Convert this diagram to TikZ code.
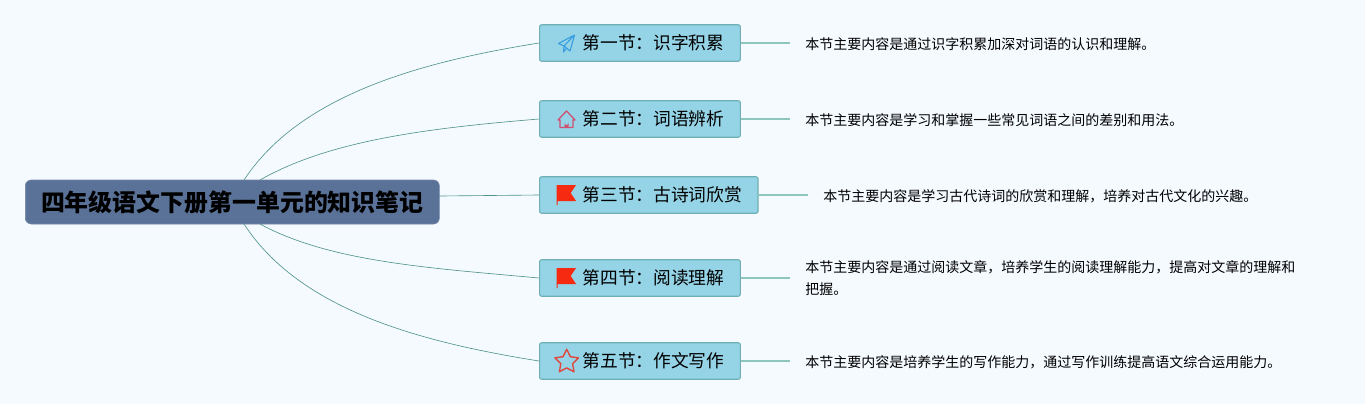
\documentclass[tikz,border=0pt]{standalone}
\usepackage{xcolor}
\usepackage{fontspec}
\setmainfont{Noto Sans CJK SC}
\usetikzlibrary{shapes.geometric}

\definecolor{pagebg}{HTML}{F5FAFF}
\definecolor{rootfill}{HTML}{5A7298}
\definecolor{secfill}{HTML}{95D3E6}
\definecolor{secline}{HTML}{6FB0B4}
\definecolor{branch}{HTML}{4F9486}
\definecolor{twig}{HTML}{8CC6BC}
\definecolor{planeblue}{HTML}{3A9FE0}
\definecolor{housered}{HTML}{D0506F}
\definecolor{flagred}{HTML}{F52A10}
\definecolor{starred}{HTML}{E0483F}

\newcommand{\wcolon}{\symbol{"FF1A}}
\newcommand{\wcomma}{\symbol{"FF0C}}

\begin{document}
\begin{tikzpicture}[x=0.025cm, y=-0.025cm, line join=round]
	\tikzstyle{root} = [fill=rootfill, draw=rootfill!85!white, rounded corners=0.15cm, anchor=west, inner sep=0, minimum width=10.35cm, minimum height=1.1cm, font=\fontsize{17}{20}\selectfont\bfseries]
	\tikzstyle{section} = [fill=secfill, draw=secline, line width=0.8pt, rounded corners=0.05cm, anchor=west, inner ysep=0, inner xsep=0.4cm, minimum height=0.91cm, font=\fontsize{12.6}{15}\selectfont, execute at begin node={\hspace*{0.675cm}}]
	\tikzstyle{note} = [anchor=west, inner xsep=0.375cm, inner ysep=0, align=left, font=\fontsize{9.96}{15.5}\selectfont]
	\tikzstyle{branchline} = [draw=branch, line width=0.45pt]
	\tikzstyle{twigline} = [draw=twig, line width=0.8pt]

	\useasboundingbox (0, 0) rectangle (1365, 404);
	\fill[pagebg] (0, 0) rectangle (1365, 404);

	\node[root]		at (25, 202)	(main)	{四年级语文下册第一单元的知识笔记};

	\node[section]	at (539, 43)	(sec1)	{第一节\wcolon 识字积累};
	\node[section]	at (539, 119)	(sec2)	{第二节\wcolon 词语辨析};
	\node[section]	at (539, 195)	(sec3)	{第三节\wcolon 古诗词欣赏};
	\node[section]	at (539, 278)	(sec4)	{第四节\wcolon 阅读理解};
	\node[section]	at (539, 361)	(sec5)	{第五节\wcolon 作文写作};

	\node[note]		at (790, 44)	(note1)	{本节主要内容是通过识字积累加深对词语的认识和理解。};
	\node[note]		at (790, 120)	(note2)	{本节主要内容是学习和掌握一些常见词语之间的差别和用法。};
	\node[note]		at (808, 196)	(note3)	{本节主要内容是学习古代诗词的欣赏和理解\wcomma 培养对古代文化的兴趣。};
	\node[note]		at (790, 278)	(note4)	{本节主要内容是通过阅读文章\wcomma 培养学生的阅读理解能力\wcomma 提高对文章的理解和\\把握。};
	\node[note]		at (790, 362)	(note5)	{本节主要内容是培养学生的写作能力\wcomma 通过写作训练提高语文综合运用能力。};

	\coordinate (up1) at (244, 180);
	\coordinate (up2) at (260, 180);
	\coordinate (mid3) at (439, 196);
	\coordinate (down4) at (260, 224);
	\coordinate (down5) at (244, 224);

	\path[branchline]
	(up1) .. controls (300, 95) and (420, 62) .. (sec1.west)
	(up2) .. controls (330, 140) and (430, 128) .. (sec2.west)
	(mid3) -- (sec3.west)
	(down4) .. controls (330, 262) and (430, 268) .. (sec4.west)
	(down5) .. controls (300, 310) and (420, 342) .. (sec5.west);

	\path[twigline]
	(sec1.east) -- (sec1.east -| note1.west)
	(sec2.east) -- (sec2.east -| note2.west)
	(sec3.east) -- (sec3.east -| note3.west)
	(sec4.east) -- (sec4.east -| note4.west)
	(sec5.east) -- (sec5.east -| note5.west);

	% icons
	\draw[planeblue, line width=0.8pt] (574.5, 35) -- (558.5, 43.5) -- (564, 46) -- (574.5, 35) -- (570, 51) -- (564, 46) -- (563.5, 52) -- (566.5, 48.2);
	\draw[housered, line width=0.9pt] (566.5, 111) -- (558, 120) -- (560, 120) -- (560, 127.5) -- (573, 127.5) -- (573, 120) -- (575, 120) -- cycle;
	\fill[housered] (564.5, 127.5) -- (564.5, 123) arc[start angle=180, end angle=0, radius=2] -- (568.5, 127.5) -- cycle;
	\foreach \y in {0, 83}
	{
		\fill[flagred] (556.7, 185+\y) -- (576, 185+\y) -- (570.7, 193+\y) -- (576, 201+\y) -- (557.5, 201+\y) -- (557.5, 205+\y) -- (556.7, 205+\y) -- cycle;
	}
	\node[star, star points=5, star point ratio=2, draw=starred, line width=1pt, inner sep=0, minimum size=0.62cm] at (566.7, 361.7) (icon5) {};
\end{tikzpicture}
\end{document}
